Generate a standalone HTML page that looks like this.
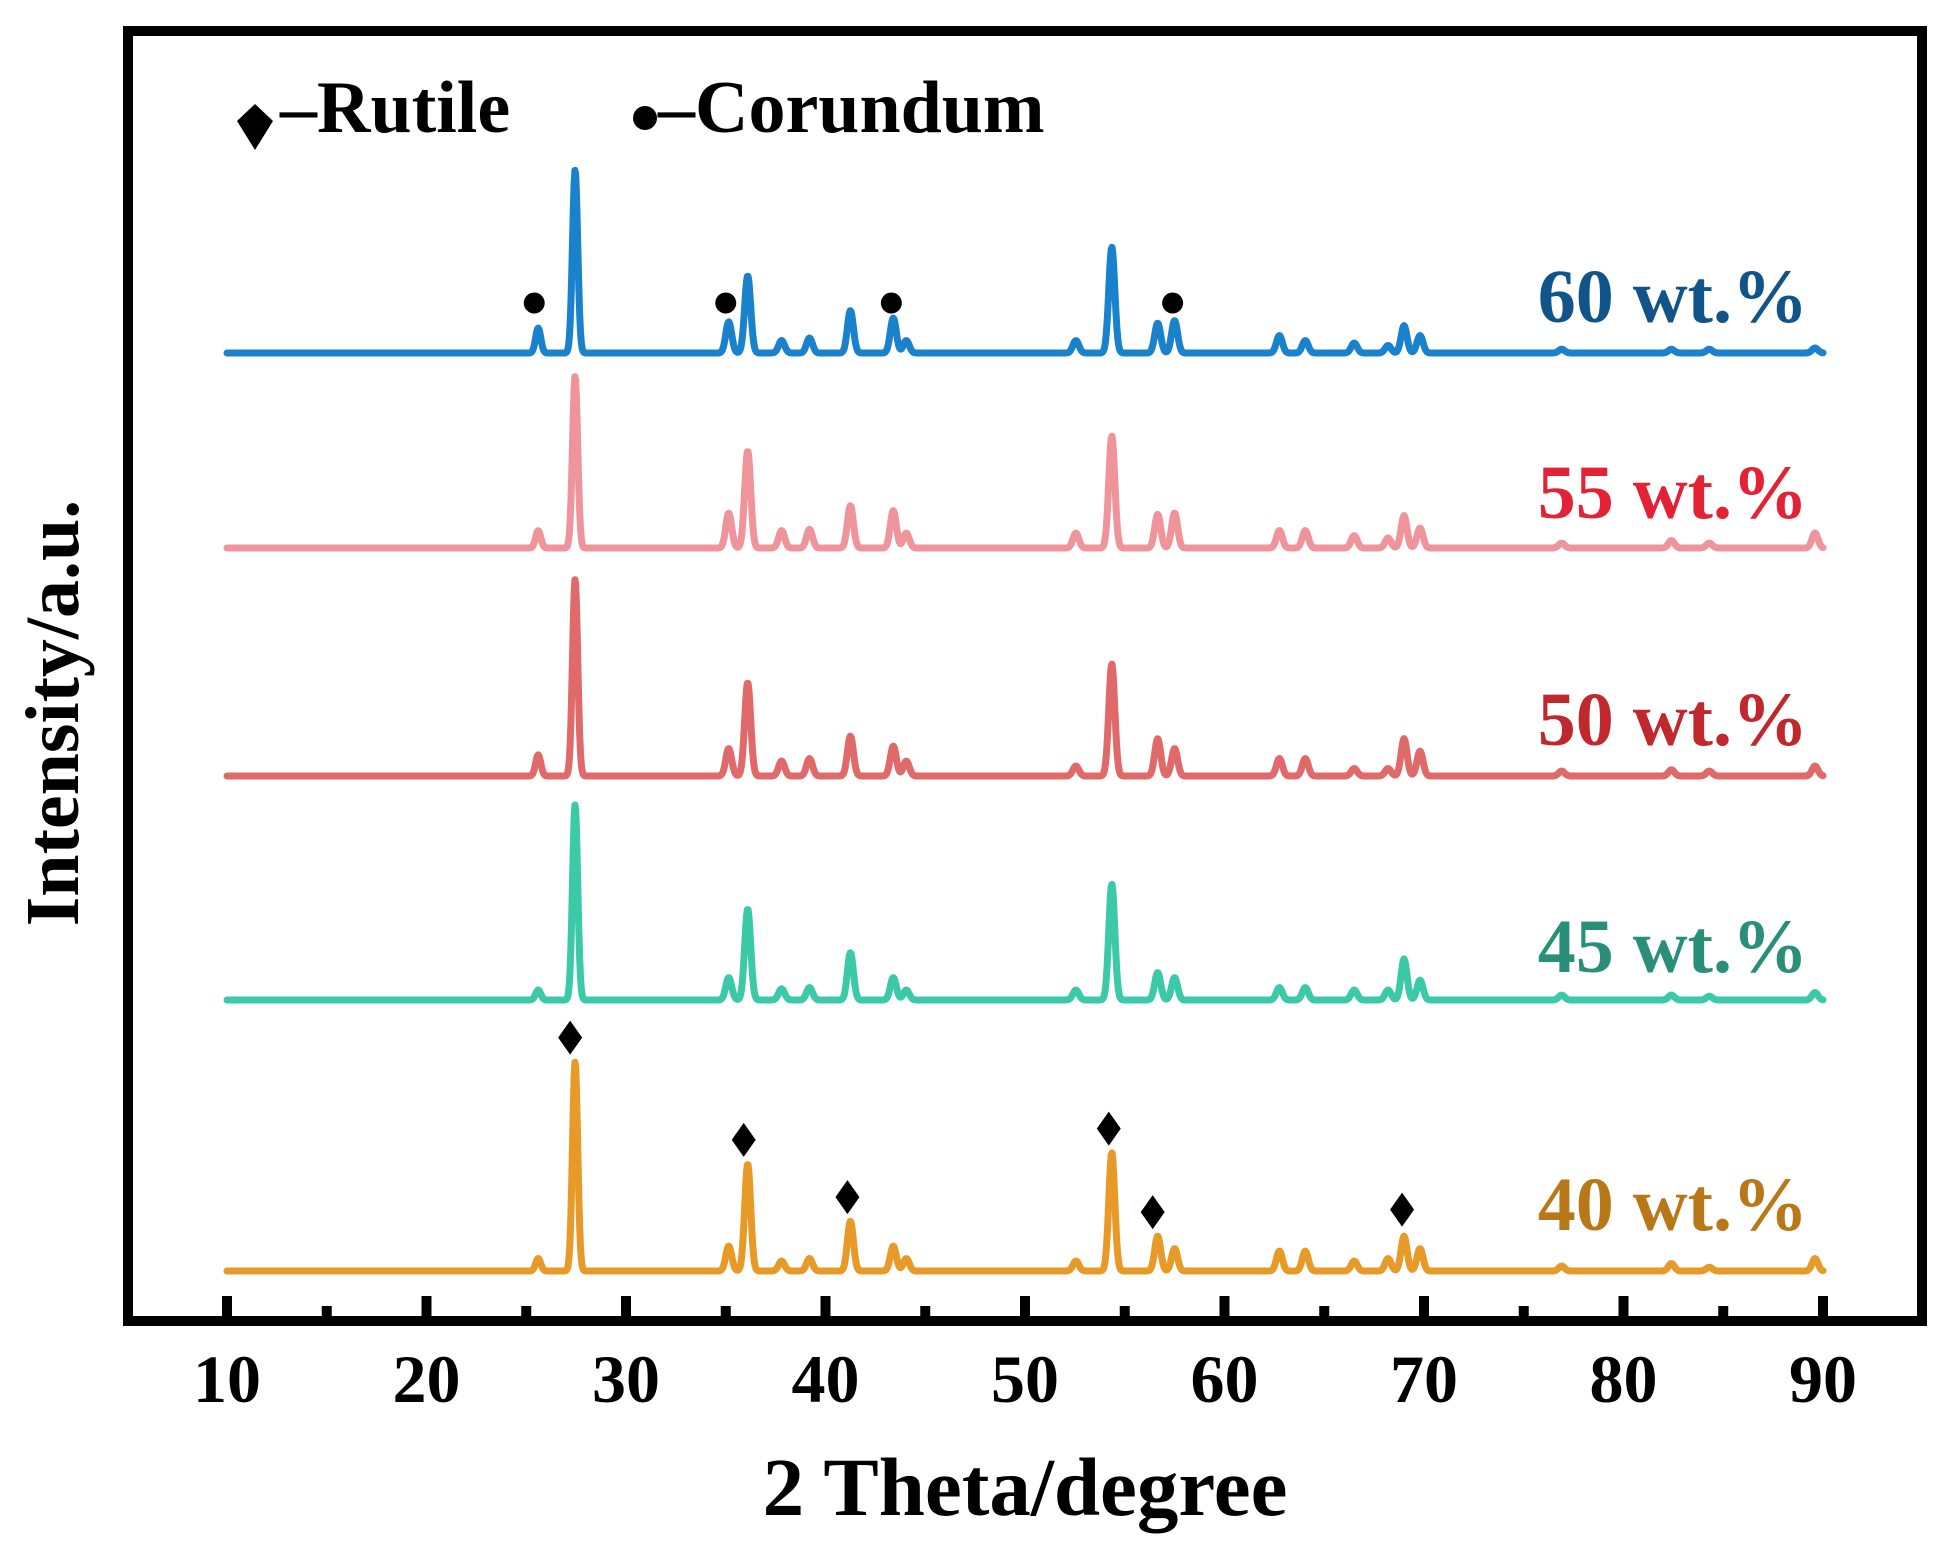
<!DOCTYPE html>
<html><head><meta charset="utf-8"><style>
html,body{margin:0;padding:0;background:#fff;}
svg{display:block;}
text{font-family:"Liberation Serif",serif;font-weight:bold;}
</style></head><body>
<svg id="chart" width="1948" height="1555" viewBox="0 0 1948 1555" xmlns="http://www.w3.org/2000/svg">
<rect x="128" y="31" width="1794" height="1290" fill="none" stroke="#000" stroke-width="10"/>
<g id="ticks"></g>
<g id="series"></g>
<g id="markers"></g>
<text x="1025" y="1515" font-size="83" text-anchor="middle">2 Theta/degree</text>
<text transform="translate(78,713) rotate(-90)" font-size="76" text-anchor="middle">Intensity/a.u.</text>
<g>
<path d="M255,104 L273,121 L255,150 L237,121 Z" fill="#000"/>
<text x="280" y="132" font-size="74">–Rutile</text>
<circle cx="645" cy="118" r="12" fill="#000"/>
<text x="658" y="132" font-size="74">–Corundum</text>
</g>
</svg>
<script>
const NS="http://www.w3.org/2000/svg";
const xTicks=[10,20,30,40,50,60,70,80,90];
const positions=[25.6,27.45,35.15,36.1,37.8,39.2,41.25,43.4,44.05,52.55,54.35,56.65,57.5,62.75,64.05,66.5,68.2,69.0,69.8,76.9,82.4,84.3,89.6];
const labels=["60 wt.%","55 wt.%","50 wt.%","45 wt.%","40 wt.%"];
const h60=[20,147,25,62,10,12,34,28,10,10,85,24,26,14,10,8,6,22,14,3,3,3,4];
const h55=[14,138,28,78,14,15,34,30,12,12,90,27,28,14,14,10,8,26,16,4,6,4,12];
const h50=[17,158,22,75,12,14,32,24,12,8,90,30,22,14,14,6,6,30,20,4,5,4,8];
const h45=[8,157,18,73,9,10,38,18,8,8,93,22,18,10,10,8,8,33,16,4,4,3,6];
const h40=[10,168,20,86,8,10,40,20,10,8,95,28,18,16,16,8,10,28,18,4,6,3,10];
const baselines=[0,1,2,3,4];
const corundumPeaks=[25.4,35.0,43.3,57.4];
const rutilePeaks=[27.2,35.9,41.1,54.2,56.4,68.9];
const rutileHeights=[168,86,40,95,28,30];

const seriesH=[h60,h55,h50,h45,h40];
const lineColors=["#1a82cc","#f0949c","#e06a6a","#3cc9a8","#e89a28"];
const textColors=["#10548a","#e32236","#c0282e","#2a8f78","#b87818"];
const baseY=[353,548,776,1000,1271];
const labelY=[322,518,745,972,1230];
const x=v=>227+(v-10)*(1823-227)/80;
const yScale=1.246;
const tg=document.getElementById('ticks');
for(let t=10;t<=90;t+=5){
  const major=xTicks.includes(t);
  const l=document.createElementNS(NS,'line');
  l.setAttribute('x1',x(t));l.setAttribute('x2',x(t));
  l.setAttribute('y1',1316);l.setAttribute('y2',major?1296:1306);
  l.setAttribute('stroke','#000');l.setAttribute('stroke-width',10);
  
  
  tg.appendChild(l);
}
xTicks.forEach(t=>{
  const tx=document.createElementNS(NS,'text');
  tx.setAttribute('x',x(t));tx.setAttribute('y',1402);
  tx.setAttribute('font-size',68);tx.setAttribute('text-anchor','middle');
  tx.textContent=t;
  
  
  tg.appendChild(tx);
});
const sg=document.getElementById('series');
baselines.forEach(i=>{
  const hs=seriesH[i];
  let d='';
  for(let v=10;v<=90.0001;v+=0.04){
    let s=0;
    positions.forEach((p,k)=>{const w=p<30?0.13:0.15;s+=hs[k]*Math.exp(-((v-p)*(v-p))/(2*w*w));});
    const py=baseY[i]-s*yScale;
    d+=(d?'L':'M')+x(v).toFixed(1)+','+py.toFixed(1);
  }
  const p=document.createElementNS(NS,'path');
  p.setAttribute('d',d);p.setAttribute('fill','none');
  p.setAttribute('stroke',lineColors[i]);p.setAttribute('stroke-width',7);
  p.setAttribute('stroke-linejoin','round');p.setAttribute('stroke-linecap','round');
  
  
  sg.appendChild(p);
  const t=document.createElementNS(NS,'text');
  t.setAttribute('x',1808);t.setAttribute('y',labelY[i]);
  t.setAttribute('font-size',76);t.setAttribute('text-anchor','end');
  t.setAttribute('fill',textColors[i]);
  t.textContent=labels[i];
  
  
  sg.appendChild(t);
});
const mg=document.getElementById('markers');
corundumPeaks.forEach(v=>{
  const c=document.createElementNS(NS,'circle');
  c.setAttribute('cx',x(v));c.setAttribute('cy',303);c.setAttribute('r',10.5);
  c.setAttribute('fill','#000');
  
  
  mg.appendChild(c);
});
rutilePeaks.forEach((v,k)=>{
  const cx=x(v),cy=1271-rutileHeights[k]*yScale-24;
  const p=document.createElementNS(NS,'path');
  p.setAttribute('d',`M${cx},${cy-17} L${cx+12},${cy} L${cx},${cy+17} L${cx-12},${cy} Z`);
  p.setAttribute('fill','#000');
  
  
  mg.appendChild(p);
});
</script>
</body></html>
